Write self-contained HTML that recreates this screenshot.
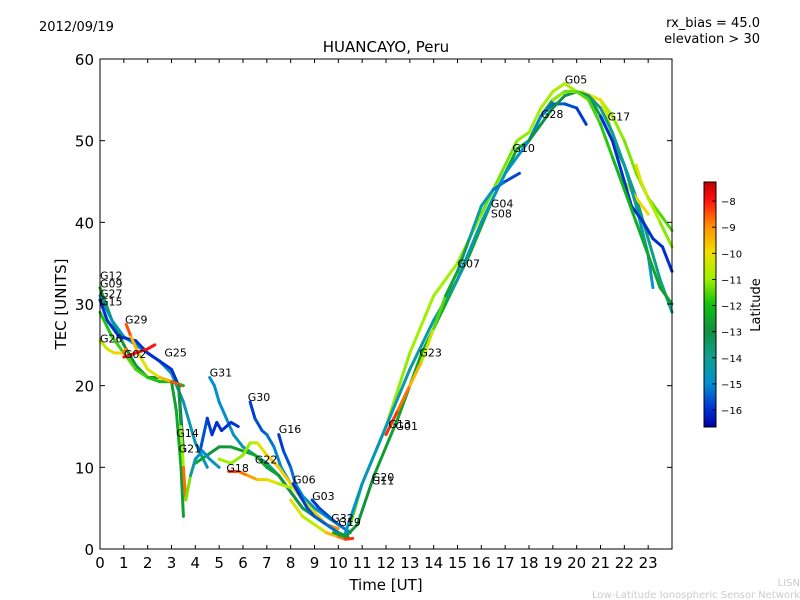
<!DOCTYPE html>
<html><head><meta charset="utf-8"><style>
body{margin:0;background:#fff;}
svg{display:block;font-family:"DejaVu Sans","Liberation Sans",sans-serif;}
</style></head><body>
<svg id="chart" width="800" height="600">
<rect width="800" height="600" fill="#fff"/>
<text x="39" y="31" font-size="13">2012/09/19</text>
<text x="760" y="27" font-size="13" text-anchor="end">rx_bias = 45.0</text>
<text x="760" y="43" font-size="13" text-anchor="end">elevation &gt; 30</text>
<text x="386" y="52" font-size="15" text-anchor="middle">HUANCAYO, Peru</text>
<g id="plot"></g>
<g id="axes"></g>
<rect x="100" y="59" width="572" height="490" fill="none" stroke="#000" stroke-width="1"/>
<text x="386" y="590" font-size="15" text-anchor="middle">Time [UT]</text>
<text transform="translate(66,304) rotate(-90)" font-size="15" text-anchor="middle">TEC [UNITS]</text>
<defs><linearGradient id="jet" x1="0" y1="0" x2="0" y2="1">
<stop offset="0" stop-color="#c00000"/><stop offset="0.075" stop-color="#ff1010"/><stop offset="0.181" stop-color="#ff9000"/><stop offset="0.288" stop-color="#f0e000"/><stop offset="0.395" stop-color="#a0f000"/><stop offset="0.501" stop-color="#10c010"/><stop offset="0.608" stop-color="#109040"/><stop offset="0.714" stop-color="#10a090"/><stop offset="0.821" stop-color="#0090d0"/><stop offset="0.928" stop-color="#0030d0"/><stop offset="1" stop-color="#0000a0"/>
</linearGradient></defs>
<g id="cbar"></g>
<text transform="translate(760,305) rotate(-90)" font-size="13" text-anchor="middle">Latitude</text>
<text x="800" y="586" font-size="10" fill="#ccc" text-anchor="end">LISN</text>
<text x="800" y="598" font-size="10" fill="#ccc" text-anchor="end">Low-Latitude Ionospheric Sensor Network</text>
</svg>
<script>
const xTicks=[0,1,2,3,4,5,6,7,8,9,10,11,12,13,14,15,16,17,18,19,20,21,22,23];
const yTicks=[0,10,20,30,40,50,60];
const cbTicks=[-8,-9,-10,-11,-12,-13,-14,-15,-16];
const latMin=-16.65, latMax=-7.27;
const tracesT=[
[0,0.5,1,1.5,2,2.5,3,3.2,3.4,3.5],
[0,0.5,1,1.5,2,2.5,3,3.5,4,4.5],
[0,0.3,0.8,1.5,2,2.5,3,3.3,3.5],
[0,0.5,1,1.5,2,2.5,3,3.5],
[1.1,1.3,1.6,2,2.5,3,3.4],
[0,0.3,0.6,1,1.1],
[1,1.5,2,2.3],
[4.6,4.8,5,5.3,5.6,6,6.5,7,7.5,8,8.5,9,9.5,10],
[6.3,6.5,6.8,7,7.3,7.6,8,8.5,9,9.5,10],
[7.5,7.7,8,8.2,8.5,9,9.5,10],
[4,4.5,5,5.5,6,6.5,7,7.5,8,8.5,9,9.5,10,10.4],
[5,5.5,6,6.3,6.6,7,7.5,8,8.5,9,9.5,10],
[4.2,4.5,4.7,4.9,5.1,5.3,5.5,5.8],
[5.4,5.8,6.2,6.6,7,7.5,8],
[8.1,8.4,8.7,9,9.5,10],
[8.9,9.2,9.6,10,10.5],
[8,8.5,9,9.5,10,10.3,10.6],
[9.8,10.3,10.8,11.5,12.5,13.5,14.5,15.5,16.5,17.5,18,18.5,19,19.5,20,20.5,21,21.5,22,22.5,23,23.5,24],
[10.5,11,12,13,14,15,16,17,17.5,18,18.5,19,19.5,20,20.5,21,21.5,22,22.5,23,23.5,24],
[10.3,11,12,13,14,15,16,17,18,18.5,19,19.5,20,20.4],
[20.2,20.6,21,21.3,21.6,22,22.5,23],
[18,18.5,19,19.5,20,20.5,21,21.5,22,22.5,23,23.2],
[21,21.5,22,22.3],
[22.3,22.8,23.2,23.6,24],
[12,12.5,13,13.5,14,14.5,15,15.5,16,16.5,17,17.6],
[19,19.5,20,20.5,21,21.5,22,22.5,23,23.5,24],
[22.5,22.7,23,23.5,24],
[3.3,3.4,3.5,3.6,3.8,4,4.3,4.6,5]
];
const tracesV=[
[32,28,25,22.5,21,21,20.5,17,10,4],
[31,28,26,25,24,23,21.5,18,13,10],
[30.5,28,26,25.5,24,23,22,20,12],
[29,26,24,22,21,20.5,20.5,20],
[27.5,26,24,22,21,20.5,20],
[25.5,24.5,24,24,24.5],
[23.5,24,24.5,25],
[21,20,18,16,14,12.5,11.5,10.5,9,7,5,4,3,2],
[18,16,14.5,14,12.5,10,8,6,5,4,3],
[14,12,10,8,6.5,5,4,3],
[10.5,11.5,12.5,12.5,12,11.5,10,9,7,5,4,3,2,1.5],
[11,10.5,11.5,13,13,11.5,10,8,6,4.5,3,2.5],
[12,16,14,15.5,14.5,15,15.5,15],
[9.5,9.5,9,8.5,8.5,8,7.5],
[8,6.5,5,4,3,2],
[6,5,4,3,2],
[6,4,3,2,1.5,1.2,1.3],
[2,1.5,3,9,16,24,30,36,43,49,50,53,55,56,56,55.5,53,50,47,43,38,33,29],
[3,8,15,24,31,35,41,47,50,51,54,56,57,56,55.5,55,53,50,46,43,41,39],
[2,8,15,22,28,33,40,46,50,53,54.5,54.5,54,52],
[56,55.5,55,53,49,45,43,41],
[50,52,54,55.5,56,55.5,54,51,47,42,36,32],
[53,50,45,42],
[42,40,38,37,34],
[14,17,20,23,27,31,34,38,42,44,45,46],
[55,56,56,55,52,48,44,40,36,32,30],
[47,45,43,40,37],
[20,15,10,6,9,11,12,11,10]
];
const tracesLat=[
[-12.5,-12.6,-12.8,-13,-13.2,-13,-12.8,-12.6,-12.4,-13],
[-14.5,-14.6,-14.8,-15,-15,-14.8,-14.6,-14.5,-14.6,-14.8],
[-16,-16,-16,-16,-16,-16,-16,-16,-16],
[-12,-11.8,-11.6,-11.5,-11.8,-12,-12.2,-12.4],
[-8,-9,-10,-10.5,-10,-9,-8],
[-10.5,-10.5,-10.2,-9.5,-8],
[-8,-8,-8,-8],
[-15,-15,-15,-15,-14.8,-14.5,-14.2,-14,-13.8,-13.5,-13.2,-13,-12.8,-12.5],
[-16,-15.8,-15.6,-15.4,-15.2,-15,-14.8,-14.6,-14.4,-14.2,-14],
[-16,-15.8,-15.5,-15.2,-15,-14.8,-14.6,-14.4],
[-12.5,-12.7,-13,-12.8,-12.6,-12.4,-12.5,-12.8,-13,-13.2,-13.4,-13.3,-13.1,-13],
[-11,-11,-11.2,-11,-10.5,-10,-9.5,-10,-10.5,-10,-9.5,-8.5],
[-15.5,-15.8,-16,-16,-16,-16,-16,-16],
[-8,-8.5,-9,-9.5,-10,-10.5,-11],
[-16,-16,-15.8,-15.6,-15.4,-15.2],
[-16,-15.8,-15.6,-15.4,-15.2],
[-10,-10.5,-11,-10,-9,-8.5,-8],
[-12.5,-12.8,-13,-12.8,-12.6,-12.5,-12.4,-12.5,-12.6,-12.6,-12.6,-12.8,-13,-13,-13,-13.2,-13.4,-13.5,-13.6,-13.7,-13.8,-13.9,-14],
[-11.5,-11.5,-11.2,-11,-11,-11,-11.2,-11.4,-11.2,-11,-11,-11,-10.8,-11,-11,-11,-11,-11.2,-11.3,-11.4,-11.5,-11.6],
[-15,-14.8,-14.6,-14.4,-14.2,-14.4,-14.6,-14.8,-15,-15.2,-15.4,-15.6,-15.8,-16],
[-10.5,-10.2,-10,-10.5,-10.8,-10.5,-10,-9.8],
[-13,-13,-13,-13,-13.2,-13.5,-13.8,-14,-14.2,-14.4,-14.6,-14.8],
[-16,-16,-16,-16],
[-16,-16,-16,-16,-16],
[-8,-8.5,-9,-10,-11,-12,-13,-14,-14.5,-15,-15.5,-16],
[-11,-11.2,-11.4,-11.5,-11.7,-12,-12.2,-12.4,-12.5,-12.6,-12.7],
[-10,-10.3,-10.6,-11,-11.3],
[-12.8,-13,-9,-8.5,-14,-14.5,-15,-14.8,-14.6]
];
const labelNames=["G12","G09","G27","G15","G29","G26","G02","G25","G31","G30","G16","G14","G21","G18","G22","G06","G03","G32","G19","G20","G11","G23","G01","G13","G07","G04","S08","G10","G28","G05","G17"];
const labelT=[0,0,0,0,1.05,0,1,2.7,4.6,6.2,7.5,3.2,3.3,5.3,6.5,8.1,8.9,9.7,10,11.4,11.4,13.4,12.4,12.1,15,16.4,16.4,17.3,18.5,19.5,21.3];
const labelV=[33,32,30.8,29.8,27.6,25.3,23.4,23.6,21.1,18.1,14.2,13.7,11.8,9.4,10.5,8,6,3.3,2.8,8.3,7.9,23.6,14.6,14.8,34.5,41.8,40.6,48.6,52.8,57,52.5];

const X=t=>100+t*572/24, Y=v=>549-v*490/60;
const NS="http://www.w3.org/2000/svg";
const cmapLat=[-16.65,-16,-15,-14,-13,-12,-11,-10,-9,-8,-7.27];
const cmapRGB=[[0,0,160],[0,48,208],[0,144,208],[16,160,144],[16,144,64],[16,192,16],[160,240,0],[240,224,0],[255,144,0],[255,16,16],[192,0,0]];
function jet(l){
 l=Math.max(latMin,Math.min(latMax,l));
 for(let i=0;i<cmapLat.length-1;i++){
  if(l<=cmapLat[i+1]){const f=(l-cmapLat[i])/(cmapLat[i+1]-cmapLat[i]);
   const a=cmapRGB[i],b=cmapRGB[i+1];
   return `rgb(${Math.round(a[0]+(b[0]-a[0])*f)},${Math.round(a[1]+(b[1]-a[1])*f)},${Math.round(a[2]+(b[2]-a[2])*f)})`;}
 }
 return 'rgb(192,0,0)';
}
const plot=document.getElementById('plot');
tracesT.forEach((ts,i)=>{
 const vs=tracesV[i],ls=tracesLat[i];
 for(let k=0;k<ts.length-1;k++){
  const ln=document.createElementNS(NS,'line');
  ln.setAttribute('x1',X(ts[k]));ln.setAttribute('y1',Y(vs[k]));
  ln.setAttribute('x2',X(ts[k+1]));ln.setAttribute('y2',Y(vs[k+1]));
  ln.setAttribute('stroke',jet((ls[k]+ls[k+1])/2));
  ln.setAttribute('stroke-width','3');ln.setAttribute('stroke-linecap','round');
  
  
  plot.appendChild(ln);
 }
});
labelNames.forEach((n,i)=>{
 const t=document.createElementNS(NS,'text');
 t.setAttribute('x',X(labelT[i]));t.setAttribute('y',Y(labelV[i]));
 t.setAttribute('font-size','11');t.textContent=n;
 
 
 plot.appendChild(t);
});
const axes=document.getElementById('axes');
function add(tag,attrs,txt){const e=document.createElementNS(NS,tag);for(const k in attrs)e.setAttribute(k,attrs[k]);if(txt!==undefined)e.textContent=txt;axes.appendChild(e);return e;}
xTicks.forEach(t=>{
 const tk=add('line',{x1:X(t),x2:X(t),y1:549,y2:545,stroke:'#000'});
 
 
 const tk2=add('line',{x1:X(t),x2:X(t),y1:59,y2:63,stroke:'#000'});
 
 
 const lb=add('text',{x:X(t),y:568,'font-size':15,'text-anchor':'middle'},String(t));
 
 
});
yTicks.forEach(v=>{
 const tk=add('line',{x1:100,x2:105,y1:Y(v),y2:Y(v),stroke:'#000'});
 
 
 const tk2=add('line',{x1:667,x2:672,y1:Y(v),y2:Y(v),stroke:'#000'});
 
 
 const lb=add('text',{x:94,y:Y(v)+6,'font-size':15,'text-anchor':'end'},String(v));
 
 
});
const cb=document.getElementById('cbar');
const cy=l=>182+(latMax-l)*245/(latMax-latMin);
const bar=document.createElementNS(NS,'rect');
bar.setAttribute('x',704);bar.setAttribute('y',182);bar.setAttribute('width',12);bar.setAttribute('height',245);
bar.setAttribute('fill','url(#jet)');bar.setAttribute('stroke','#000');


cb.appendChild(bar);
cbTicks.forEach(l=>{
 const t=document.createElementNS(NS,'text');
 t.setAttribute('x',721);t.setAttribute('y',cy(l)+4);t.setAttribute('font-size','10');t.textContent='\u2212'+Math.abs(l);
 
 
 cb.appendChild(t);
 const k=document.createElementNS(NS,'line');
 k.setAttribute('x1',712);k.setAttribute('x2',716);k.setAttribute('y1',cy(l));k.setAttribute('y2',cy(l));k.setAttribute('stroke','#000');
 
 
 cb.appendChild(k);
});
</script>
</body></html>
